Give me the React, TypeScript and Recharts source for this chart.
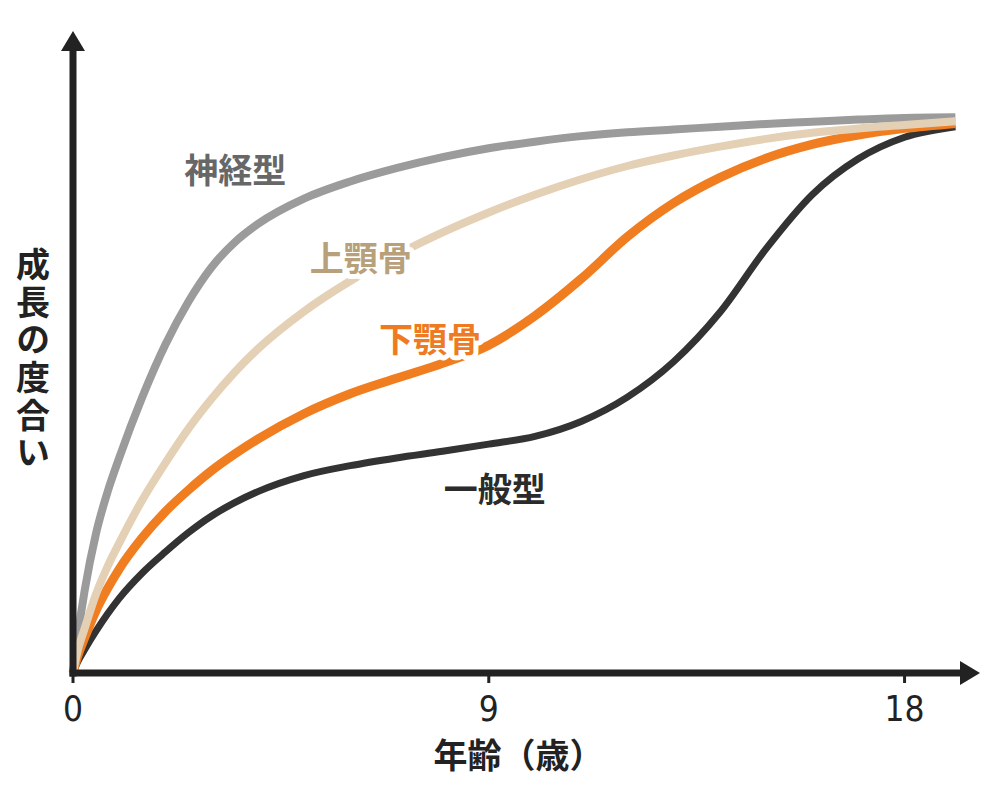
import React from 'react';
import { LineChart, Line, XAxis, YAxis, ReferenceDot } from 'recharts';

// 年齢（歳）
const AGES = [0, 0.1, 0.25, 0.5, 0.75, 1, 1.5, 2, 2.5, 3, 3.5, 4, 5, 6, 7, 8, 9, 10, 11, 12, 13, 14, 15, 16, 17, 18, 19.1];

// 成長の度合い（20歳 = 100 としたおおよその値）
const NEURAL = [0, 6.5, 14.8, 25.3, 32.8, 38.9, 49.9, 59.4, 67.2, 73.4, 77.9, 81.2, 85.8, 88.9, 91.3, 93.3, 94.9, 96.1, 97.1, 97.8, 98.3, 98.8, 99.3, 99.7, 100.1, 100.4, 100.5];
const MAXILLA = [0, 4, 8, 14.3, 19.3, 23.5, 31.3, 38, 44.2, 49.6, 54.4, 58.6, 65.4, 70.9, 75.6, 79.7, 83.3, 86.5, 89.3, 91.7, 93.6, 95.2, 96.6, 97.7, 98.5, 99.1, 99.8];
const MANDIBLE = [0, 3, 6.3, 11.3, 15.3, 18.8, 24.5, 29.2, 33.1, 36.6, 39.6, 42.3, 46.9, 50.5, 53.3, 56, 59.3, 64.6, 71.3, 78.9, 85, 89.6, 93.1, 95.6, 97.3, 98.5, 99.4];
const GENERAL = [0, 2, 4.2, 7.6, 10.7, 13.5, 18.1, 21.9, 25.4, 28.4, 30.8, 32.8, 35.7, 37.5, 38.9, 40.1, 41.4, 42.8, 45.5, 49.9, 56.3, 65.2, 76.7, 86.5, 93, 96.9, 98.8];

const AGE_TICKS = [0, 9, 18];

const rows = AGES.map((age, i) => ({
  age,
  neural: NEURAL[i],
  maxilla: MAXILLA[i],
  mandible: MANDIBLE[i],
  general: GENERAL[i],
}));

const JP_FONT = "'Noto Sans CJK JP', sans-serif";
const AXIS_COLOR = '#222';

// 曲線の名前ラベル（データ座標での位置）
const SERIES_LABELS = [
  { text: '神経型', age: 3.51, level: 91.2, color: '#676767' },
  { text: '上顎骨', age: 6.23, level: 75.4, color: '#b8a07b' },
  { text: '下顎骨', age: 7.73, level: 60.6, color: '#ee7a22' },
  { text: '一般型', age: 9.13, level: 33.5, color: '#2b2b2b' },
];

const AgeTick = (props: any) => {
  const { x, y, payload } = props;
  return (
    <text
      x={x}
      y={y}
      dy={36}
      textAnchor="middle"
      fill={AXIS_COLOR}
      fontSize={35}
      fontFamily="'Liberation Sans Narrow', 'DejaVu Sans Condensed', sans-serif"
    >
      {payload.value}
    </text>
  );
};

const XTitle = (props: any) => {
  const vb = props.viewBox;
  return (
    <text
      x={vb.x + vb.width / 2 + 2}
      y={vb.y + 95}
      textAnchor="middle"
      fill={AXIS_COLOR}
      fontSize={34}
      fontWeight={700}
      fontFamily={JP_FONT}
    >
      年齢（歳）
    </text>
  );
};

// 縦書きの軸タイトル
const YTitle = (props: any) => {
  const vb = props.viewBox;
  return (
    <text
      x={vb.x + vb.width - 40}
      y={vb.y + vb.height / 2 - 2}
      textAnchor="middle"
      fill={AXIS_COLOR}
      fontSize={34}
      fontWeight={700}
      fontFamily={JP_FONT}
      style={{ writingMode: 'vertical-rl', letterSpacing: '3.6px' }}
    >
      成長の度合い
    </text>
  );
};

export default function App() {
  return (
    <div style={{ position: 'absolute', left: 0, top: 0, width: 1000, height: 800, background: '#fff' }}>
      <LineChart width={1000} height={800} data={rows} margin={{ top: 51, right: 40, bottom: 47, left: 33 }}>
        <defs>
          <marker
            id="axis-arrow"
            viewBox="0 0 20 24"
            refX={0}
            refY={12}
            markerWidth={20}
            markerHeight={24}
            markerUnits="userSpaceOnUse"
            orient="auto-start-reverse"
          >
            <path d="M0,0 L20,12 L0,24 Z" fill={AXIS_COLOR} />
          </marker>
        </defs>
        <XAxis
          dataKey="age"
          type="number"
          domain={[0, 19.2]}
          ticks={AGE_TICKS}
          height={80}
          tickSize={10}
          tickLine={{ stroke: AXIS_COLOR, strokeWidth: 3 }}
          axisLine={{ stroke: AXIS_COLOR, strokeWidth: 7, strokeLinecap: 'square', markerEnd: 'url(#axis-arrow)' }}
          tick={<AgeTick />}
          label={{ content: XTitle }}
        />
        <YAxis
          type="number"
          domain={[0, 112.5]}
          width={40}
          tick={false}
          tickLine={false}
          axisLine={{ stroke: AXIS_COLOR, strokeWidth: 7, strokeLinecap: 'square', markerStart: 'url(#axis-arrow)' }}
          label={{ content: YTitle }}
        />
        <Line type="monotone" dataKey="neural" stroke="#9b9b9b" strokeWidth={8} dot={false} isAnimationActive={false} />
        <Line type="monotone" dataKey="general" stroke="#333333" strokeWidth={7} dot={false} isAnimationActive={false} />
        <Line type="monotone" dataKey="mandible" stroke="#f07d1f" strokeWidth={9} dot={false} isAnimationActive={false} />
        <Line type="monotone" dataKey="maxilla" stroke="#e4d0b4" strokeWidth={8} dot={false} isAnimationActive={false} />
        {SERIES_LABELS.map((l) => (
          <ReferenceDot
            key={l.text}
            x={l.age}
            y={l.level}
            r={0}
            shape={(p: any) => (
              <text
                x={p.cx}
                y={p.cy}
                textAnchor="middle"
                dominantBaseline="central"
                fill={l.color}
                stroke="#fff"
                strokeWidth={10}
                strokeLinejoin="round"
                paintOrder="stroke"
                fontSize={34}
                fontWeight={700}
                fontFamily={JP_FONT}
              >
                {l.text}
              </text>
            )}
          />
        ))}
      </LineChart>
    </div>
  );
}
